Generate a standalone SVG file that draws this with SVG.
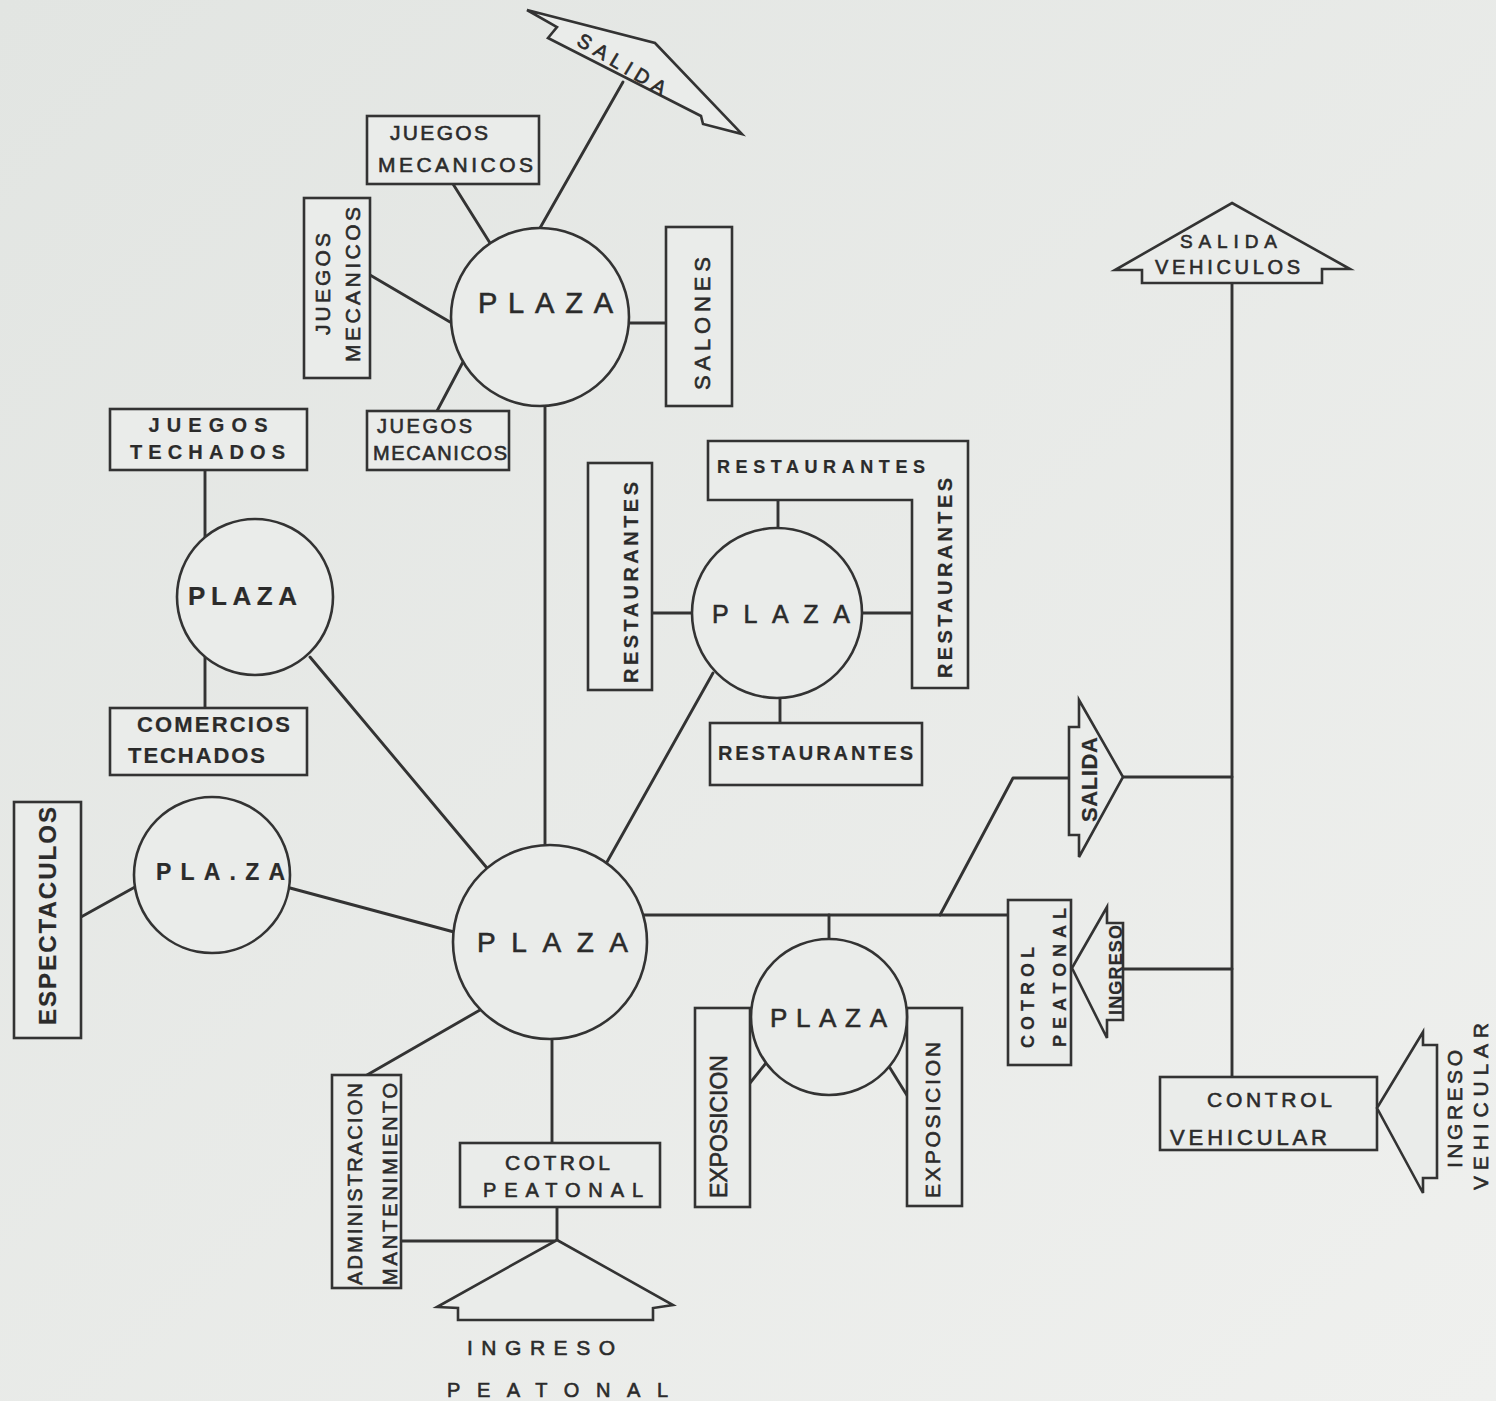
<svg xmlns="http://www.w3.org/2000/svg" width="1496" height="1401" viewBox="0 0 1496 1401">
<defs>
<linearGradient id="bg" x1="0" y1="0" x2="1" y2="1">
<stop offset="0" stop-color="#e2e5e2"/>
<stop offset="1" stop-color="#eff0ee"/>
</linearGradient>
<style>
.s{fill:#eaecea;stroke:#333;stroke-width:2.6}
.c{fill:none;stroke:#333;stroke-width:2.9;stroke-linecap:round;stroke-linejoin:round}
text{font-family:"Liberation Sans","DejaVu Sans",Arial,sans-serif;fill:#2b2b2b;stroke:#2b2b2b;stroke-width:0.6;text-anchor:middle}
.b{font-weight:bold;stroke-width:0.2}
</style>
</defs>
<rect width="1496" height="1401" fill="url(#bg)"/>
<g id="connectors" class="c">
<line x1="623" y1="82" x2="540" y2="228"/>
<line x1="453" y1="184" x2="490" y2="243"/>
<line x1="370" y1="275" x2="450" y2="322"/>
<line x1="437" y1="411" x2="463" y2="362"/>
<line x1="629" y1="323" x2="666" y2="323"/>
<line x1="545" y1="406" x2="545" y2="845"/>
<line x1="205" y1="470" x2="205" y2="537"/>
<line x1="205" y1="657" x2="205" y2="708"/>
<line x1="310" y1="657" x2="487" y2="868"/>
<line x1="81" y1="917" x2="135" y2="887"/>
<line x1="290" y1="888" x2="454" y2="932"/>
<line x1="652" y1="613" x2="692" y2="613"/>
<line x1="778" y1="500" x2="778" y2="528"/>
<line x1="862" y1="613" x2="912" y2="613"/>
<line x1="780" y1="698" x2="780" y2="723"/>
<line x1="713" y1="673" x2="607" y2="862"/>
<line x1="643" y1="915" x2="1008" y2="915"/>
<polyline points="940,915 1013,778 1069,778"/>
<line x1="1123" y1="777" x2="1232" y2="777"/>
<line x1="1232" y1="283" x2="1232" y2="1077"/>
<line x1="1123" y1="969" x2="1232" y2="969"/>
<line x1="829" y1="915" x2="829" y2="939"/>
<line x1="750" y1="1083" x2="766" y2="1063"/>
<line x1="890" y1="1068" x2="908" y2="1097"/>
<line x1="367" y1="1075" x2="480" y2="1010"/>
<line x1="552" y1="1039" x2="552" y2="1143"/>
<line x1="557" y1="1207" x2="557" y2="1240"/>
<line x1="401" y1="1241" x2="557" y2="1241"/>
</g>
<g id="salida-top">
<polygon class="s" points="527,10 655,43 742,134 703,124 701,116 548,38 557,27"/>
<text transform="translate(622,64) rotate(31)" y="7" font-size="20" textLength="100" lengthAdjust="spacing">SALIDA</text>
</g>
<g id="juegos-mecanicos-top">
<rect class="s" x="367" y="116" width="172" height="68"/>
<text x="439" y="140" font-size="21" textLength="98" lengthAdjust="spacing">JUEGOS</text>
<text x="455.5" y="172" font-size="21" textLength="155" lengthAdjust="spacing">MECANICOS</text>
</g>
<g id="juegos-mecanicos-left">
<rect class="s" x="304" y="198" width="66" height="180"/>
<text transform="translate(330,284) rotate(-90)" font-size="21" textLength="102" lengthAdjust="spacing">JUEGOS</text>
<text transform="translate(360,284.5) rotate(-90)" font-size="21" textLength="155" lengthAdjust="spacing">MECANICOS</text>
</g>
<g id="plaza-top">
<circle class="s" cx="540" cy="317" r="89"/>
<text x="545.5" y="313" font-size="29" textLength="135" lengthAdjust="spacing">PLAZA</text>
</g>
<g id="salones">
<rect class="s" x="666" y="227" width="66" height="179"/>
<text transform="translate(710,323.5) rotate(-90)" font-size="22" textLength="133" lengthAdjust="spacing">SALONES</text>
</g>
<g id="juegos-mecanicos-bottom">
<rect class="s" x="367" y="411" width="142" height="59"/>
<text x="424.5" y="433" font-size="20" textLength="95" lengthAdjust="spacing">JUEGOS</text>
<text x="440" y="460" font-size="20" textLength="134" lengthAdjust="spacing">MECANICOS</text>
</g>
<g id="juegos-techados">
<rect class="s" x="110" y="409" width="197" height="61"/>
<text class="b" x="208" y="432" font-size="20" textLength="119" lengthAdjust="spacing">JUEGOS</text>
<text class="b" x="207.5" y="459" font-size="20" textLength="155" lengthAdjust="spacing">TECHADOS</text>
</g>
<g id="plaza-left">
<circle class="s" cx="255" cy="597" r="78"/>
<text class="b" x="242.5" y="605" font-size="26" textLength="109" lengthAdjust="spacing">PLAZA</text>
</g>
<g id="comercios-techados">
<rect class="s" x="110" y="708" width="197" height="67"/>
<text class="b" x="213.5" y="732" font-size="22" textLength="153" lengthAdjust="spacing">COMERCIOS</text>
<text class="b" x="196.5" y="763" font-size="22" textLength="137" lengthAdjust="spacing">TECHADOS</text>
</g>
<g id="espectaculos">
<rect class="s" x="14" y="802" width="67" height="236"/>
<text class="b" transform="translate(56,916) rotate(-90)" font-size="24" textLength="218" lengthAdjust="spacing">ESPECTACULOS</text>
</g>
<g id="plaza-mid-left">
<circle class="s" cx="212" cy="875" r="78"/>
<text class="b" x="220.5" y="880" font-size="23" textLength="129" lengthAdjust="spacing">PLA.ZA</text>
</g>
<g id="plaza-main">
<circle class="s" cx="550" cy="942" r="97"/>
<text x="552.5" y="952" font-size="28" textLength="151" lengthAdjust="spacing">PLAZA</text>
</g>
<g id="restaurantes-left">
<rect class="s" x="588" y="463" width="64" height="227"/>
<text class="b" transform="translate(638,582.5) rotate(-90)" font-size="20" textLength="201" lengthAdjust="spacing">RESTAURANTES</text>
</g>
<g id="restaurantes-L">
<path class="s" d="M708,441 H968 V688 H912 V500 H708 Z"/>
<text class="b" x="821" y="473" font-size="18" textLength="208" lengthAdjust="spacing">RESTAURANTES</text>
<text class="b" transform="translate(952,578) rotate(-90)" font-size="20" textLength="200" lengthAdjust="spacing">RESTAURANTES</text>
</g>
<g id="restaurantes-bottom">
<rect class="s" x="710" y="723" width="212" height="62"/>
<text class="b" x="815.5" y="760" font-size="20" textLength="195" lengthAdjust="spacing">RESTAURANTES</text>
</g>
<g id="plaza-restaurantes">
<circle class="s" cx="777" cy="613" r="85"/>
<text x="781" y="623" font-size="25" textLength="138" lengthAdjust="spacing">PLAZA</text>
</g>
<g id="exposicion-left">
<rect class="s" x="695" y="1008" width="55" height="199"/>
<text transform="translate(727,1126.5) rotate(-90)" font-size="23" textLength="143" lengthAdjust="spacing">EXPOSICION</text>
</g>
<g id="exposicion-right">
<rect class="s" x="907" y="1008" width="55" height="198"/>
<text transform="translate(940,1120) rotate(-90)" font-size="21" textLength="156" lengthAdjust="spacing">EXPOSICION</text>
</g>
<g id="plaza-exposicion">
<circle class="s" cx="829" cy="1017" r="78"/>
<text x="828.5" y="1027" font-size="26" textLength="117" lengthAdjust="spacing">PLAZA</text>
</g>
<g id="salida-mid">
<polygon class="s" points="1079,700 1123,777 1079,857 1079,835 1069,835 1069,727 1079,727"/>
<text class="b" transform="translate(1097,779.5) rotate(-90)" font-size="22" textLength="85" lengthAdjust="spacing">SALIDA</text>
</g>
<g id="salida-vehiculos">
<polygon class="s" points="1232,203 1350,269 1322,269 1322,283 1142,283 1142,270 1115,270"/>
<text x="1228.5" y="248" font-size="19" textLength="97" lengthAdjust="spacing">SALIDA</text>
<text x="1227.5" y="274" font-size="20" textLength="145" lengthAdjust="spacing">VEHICULOS</text>
</g>
<g id="cotrol-peatonal-right">
<rect class="s" x="1008" y="900" width="63" height="165"/>
<text class="b" transform="translate(1034,997.5) rotate(-90)" font-size="18" textLength="101" lengthAdjust="spacing">COTROL</text>
<text class="b" transform="translate(1066,977.5) rotate(-90)" font-size="18" textLength="139" lengthAdjust="spacing">PEATONAL</text>
</g>
<g id="ingreso-right">
<polygon class="s" points="1072,968 1107,907 1107,923 1123,923 1123,1020 1107,1020 1107,1038"/>
<text class="b" transform="translate(1122,970) rotate(-90)" font-size="18" textLength="90" lengthAdjust="spacing">INGRESO</text>
</g>
<g id="control-vehicular">
<rect class="s" x="1160" y="1077" width="217" height="73"/>
<text x="1269.5" y="1107" font-size="21" textLength="125" lengthAdjust="spacing">CONTROL</text>
<text x="1248.5" y="1145" font-size="22" textLength="157" lengthAdjust="spacing">VEHICULAR</text>
</g>
<g id="ingreso-vehicular">
<polygon class="s" points="1377,1108 1423,1032 1423,1045 1437,1045 1437,1178 1423,1178 1423,1193"/>
<text transform="translate(1462,1109) rotate(-90)" font-size="21" textLength="118" lengthAdjust="spacing">INGRESO</text>
<text transform="translate(1488,1106.5) rotate(-90)" font-size="21" textLength="167" lengthAdjust="spacing">VEHICULAR</text>
</g>
<g id="administracion">
<rect class="s" x="332" y="1075" width="69" height="213"/>
<text transform="translate(362,1184) rotate(-90)" font-size="20" textLength="202" lengthAdjust="spacing">ADMINISTRACION</text>
<text transform="translate(397,1184) rotate(-90)" font-size="20" textLength="202" lengthAdjust="spacing">MANTENIMIENTO</text>
</g>
<g id="cotrol-peatonal-bottom">
<rect class="s" x="460" y="1143" width="200" height="64"/>
<text x="557.5" y="1170" font-size="21" textLength="105" lengthAdjust="spacing">COTROL</text>
<text x="563" y="1197" font-size="20" textLength="160" lengthAdjust="spacing">PEATONAL</text>
</g>
<g id="ingreso-peatonal">
<polygon class="s" points="557,1240 673,1305 653,1308 653,1320 458,1320 458,1308 437,1307"/>
<text x="541" y="1355" font-size="21" textLength="148" lengthAdjust="spacing">INGRESO</text>
<text x="557.5" y="1397" font-size="20" textLength="221" lengthAdjust="spacing">PEATONAL</text>
</g>
</svg>
